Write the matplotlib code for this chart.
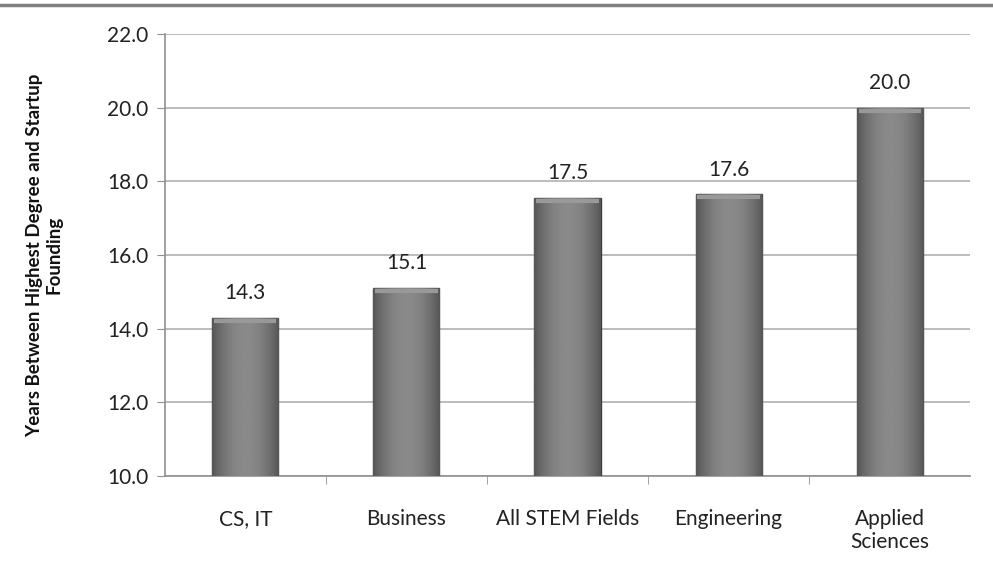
import matplotlib.pyplot as plt
import numpy as np

plt.rcParams['font.family'] = ['Lato', 'DejaVu Sans']

categories = ['CS, IT', 'Business', 'All STEM Fields', 'Engineering', 'Applied\nSciences']
years = [14.3, 15.1, 17.55, 17.65, 20.0]
labels = ['14.3', '15.1', '17.5', '17.6', '20.0']
yticks = [10, 12, 14, 16, 18, 20, 22]

fig = plt.figure(figsize=(9.93, 5.67), dpi=100)
ax = fig.add_axes([0.166, 0.1605, 0.811, 0.7795])

x = np.arange(len(categories))
width = 0.41
bars = ax.bar(x, years, width=width, bottom=0, color='#707070',
              edgecolor='#3e3e3e', linewidth=1.0, zorder=3)

# horizontal shading on each bar, darker at the edges
shade = 0.54 - 0.2 * np.abs(np.linspace(-1, 1, 64))[None, :] ** 2
for b in bars:
    x0, w, h = b.get_x(), b.get_width(), b.get_height()
    im = ax.imshow(shade, cmap='gray', vmin=0, vmax=1, aspect='auto',
                   extent=[x0, x0 + w, 10, h], zorder=3.5)
    im.set_clip_path(b)
    ax.plot([x0 + 0.012, x0 + w - 0.012], [h - 0.08, h - 0.08], color='#999999',
            lw=3, zorder=4, solid_capstyle='butt')

for xi, v, lab in zip(x, years, labels):
    ax.text(xi, v + 0.4, lab, ha='center', va='bottom', fontsize=15, color='#222222')

ax.set_xlim(-0.5, len(categories) - 0.5)
ax.set_ylim(10, 22)
ax.set_yticks(yticks)
ax.set_yticklabels([f'{t:.1f}' for t in yticks], fontsize=15, color='#222222')
ax.set_xticks(x)
ax.set_xticklabels(categories, fontsize=15, color='#222222', linespacing=1.15)
ax.tick_params(axis='x', length=0, pad=24)
ax.tick_params(axis='y', length=6, color='#909090', pad=6)
ax.set_xticks(np.arange(0.5, len(categories) - 0.5), minor=True)
ax.tick_params(axis='x', which='minor', length=6, color='#909090', direction='out')

ax.grid(axis='y', color='#b0b0b0', linewidth=1.2, zorder=0)
for s in ['top', 'right']:
    ax.spines[s].set_visible(False)
for s in ['left', 'bottom']:
    ax.spines[s].set_color('#909090')
    ax.spines[s].set_linewidth(1.2)

ax.set_ylabel('Years Between Highest Degree and Startup\nFounding', fontsize=13.5,
              fontweight='bold', color='#111111', labelpad=32, linespacing=1.2)

fig.add_artist(plt.Line2D([0, 1], [0.991, 0.991], color='#808080', lw=2.5))

fig.savefig('out.png', dpi=100)
